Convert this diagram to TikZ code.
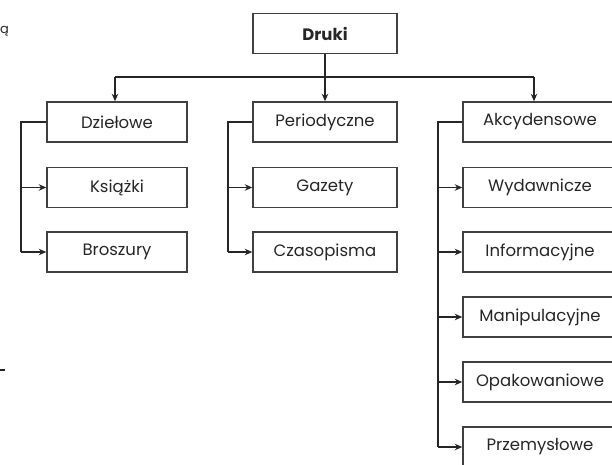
\documentclass[tikz,border=0pt]{standalone}
\usepackage{fontspec}
\setmainfont{Poppins}
\usetikzlibrary{calc,arrows.meta}
\definecolor{ink}{HTML}{262626}
\definecolor{boxline}{HTML}{404040}
\tikzset{
  box/.style={draw=boxline, line width=1.5pt, fill=white, minimum height=40pt, inner sep=0pt,
    font=\fontsize{16.5}{18}\selectfont, text=ink},
  conn/.style={draw=ink, line width=1.9pt},
  arr/.style={conn, -{Stealth[length=7.5pt,width=6.5pt]}},
}
\begin{document}
\begin{tikzpicture}[x=1pt,y=1pt]
\useasboundingbox (0,0) rectangle (612,-465);
% top box
\node[box, minimum width=144pt, font=\fontsize{16.5}{18}\selectfont\bfseries] (dr) at (325,-33.5) {Druki};
% column 1
\node[box, minimum width=140pt] (dz) at (117,-122) {Dziełowe};
\node[box, minimum width=140pt] (ks) at (117,-187.5) {Książki};
\node[box, minimum width=140pt] (br) at (117,-252) {Broszury};
% column 2
\node[box, minimum width=144pt] (pe) at (325,-122) {Periodyczne};
\node[box, minimum width=144pt] (ga) at (325,-187.5) {Gazety};
\node[box, minimum width=144pt] (cz) at (325,-252) {Czasopisma};
% column 3
\node[box, minimum width=154pt] (ak) at (540,-122) {Akcydensowe};
\node[box, minimum width=154pt] (wy) at (540,-187.5) {Wydawnicze};
\node[box, minimum width=154pt] (in) at (540,-252) {Informacyjne};
\node[box, minimum width=154pt] (ma) at (540,-317) {Manipulacyjne};
\node[box, minimum width=154pt] (op) at (540,-382) {Opakowaniowe};
\node[box, minimum width=154pt] (pr) at (540,-447) {Przemysłowe};
% bus
\coordinate (bus) at (325,-77);
\coordinate (b1) at (115,-77);
\coordinate (b3) at (534,-77);
\draw[conn] (dr.south) -- (bus);
\draw[conn] (b1) -- (b3);
\draw[arr] (b1) -- (b1 |- dz.north);
\draw[arr] (bus) -- (pe.north);
\draw[arr] (b3) -- (b3 |- ak.north);
% column 1 trunk
\coordinate (t1) at ($(dz.west)+(-25,0)$);
\draw[conn] (dz.west) -- (t1) -- (t1 |- br.west);
\draw[arr] (t1 |- ks.west) -- (ks.west);
\draw[arr] (t1 |- br.west) -- (br.west);
% column 2 trunk
\coordinate (t2) at ($(pe.west)+(-24,0)$);
\draw[conn] (pe.west) -- (t2) -- (t2 |- cz.west);
\draw[arr] (t2 |- ga.west) -- (ga.west);
\draw[arr] (t2 |- cz.west) -- (cz.west);
% column 3 trunk
\coordinate (t3) at ($(ak.west)+(-24,0)$);
\draw[conn] (ak.west) -- (t3) -- (t3 |- pr.west);
\draw[arr] (t3 |- wy.west) -- (wy.west);
\draw[arr] (t3 |- in.west) -- (in.west);
\draw[arr] (t3 |- ma.west) -- (ma.west);
\draw[arr] (t3 |- op.west) -- (op.west);
\draw[arr] (t3 |- pr.west) -- (pr.west);
% stray fragments at left edge
\node[anchor=west, inner sep=0pt, text=ink, font=\fontsize{13}{15}\selectfont] (frag) at (0,-31) {ą};
\coordinate (d1) at (0,-370);
\coordinate (d2) at (5,-370);
\draw[conn, line width=1.2pt] (d1) -- (d2);
\end{tikzpicture}
\end{document}
